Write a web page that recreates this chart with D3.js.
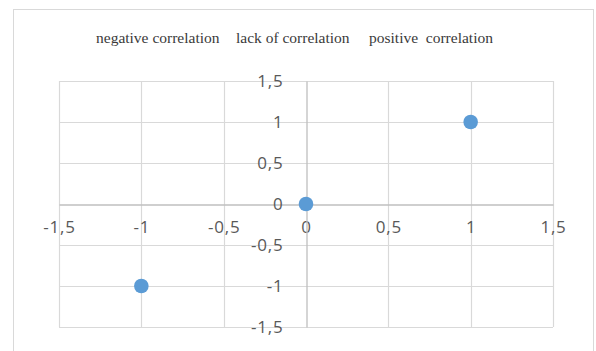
<!DOCTYPE html>
<html>
<head>
<meta charset="utf-8">
<script src="https://cdn.jsdelivr.net/npm/d3@7"></script>
<style>
  html, body { margin: 0; padding: 0; background: #fff; }
  svg { display: block; }
</style>
</head>
<body>
<svg id="chart" width="596" height="351"></svg>
<script>
// Scatter of three correlation cases
const xValues = [-1, 0, 1];
const yValues = [-1, 0, 1];
const xTicks = [-1.5, -1, -0.5, 0, 0.5, 1, 1.5];
const yTicks = [-1.5, -1, -0.5, 0, 0.5, 1, 1.5];
const headings = ["negative correlation", "lack of correlation", "positive  correlation"];
const headingX = [96, 236, 369];

const svg = d3.select("#chart");
const plot = { left: 59, right: 553, top: 81, bottom: 327 };

// chart frame
svg.append("rect")
  .attr("x", 13.5).attr("y", 9.5)
  .attr("width", 580).attr("height", 360)
  .attr("fill", "#fff").attr("stroke", "#d9d9d9").attr("stroke-width", 1);

const x = d3.scaleLinear().domain([-1.5, 1.5]).range([plot.left, plot.right]);
const y = d3.scaleLinear().domain([-1.5, 1.5]).range([plot.bottom, plot.top]);
const fmt = d => String(d).replace(".", ",");

// gridlines
const grid = svg.append("g").attr("class", "grid");
grid.selectAll("line.v").data(xTicks.filter(d => d !== 0)).join("line")
  .attr("class", "v")
  .attr("x1", d => Math.round(x(d)) + 0.5).attr("x2", d => Math.round(x(d)) + 0.5)
  .attr("y1", plot.top).attr("y2", plot.bottom)
  .attr("stroke", "#d9d9d9").attr("stroke-width", 1.2);
grid.selectAll("line.h").data(yTicks.filter(d => d !== 0)).join("line")
  .attr("class", "h")
  .attr("y1", d => Math.round(y(d)) + 0.5).attr("y2", d => Math.round(y(d)) + 0.5)
  .attr("x1", plot.left).attr("x2", plot.right)
  .attr("stroke", "#d9d9d9").attr("stroke-width", 1.2);

// axes crossing at zero
const xAxis = d3.axisBottom(x).tickValues(xTicks).tickSize(0).tickPadding(13).tickFormat(fmt);
const yAxis = d3.axisLeft(y).tickValues(yTicks).tickSize(0).tickPadding(23).tickFormat(fmt);

const gx = svg.append("g")
  .attr("transform", `translate(0,${Math.round(y(0)) + 0.5})`)
  .call(xAxis);
const gy = svg.append("g")
  .attr("transform", `translate(${Math.round(x(0)) + 0.5},0)`)
  .call(yAxis);

[gx, gy].forEach(g => {
  g.select(".domain").attr("stroke", "#bfbfbf").attr("stroke-width", 1.3);
  g.selectAll("text")
    .attr("fill", "#595959")
    .attr("font-family", "'Open Sans', sans-serif")
    .attr("font-size", 17)
    .attr("letter-spacing", "0.8px");
});
gx.selectAll("text").attr("dy", "0.92em");
gy.selectAll("text").attr("dy", "0.35em");

// headings
svg.append("g").selectAll("text").data(headings).join("text")
  .attr("x", (d, i) => headingX[i])
  .attr("y", 43)
  .attr("fill", "#3a3a3a")
  .attr("font-family", "'Liberation Serif', 'Times New Roman', serif")
  .attr("font-size", 15.5)
  .style("white-space", "pre")
  .text(d => d);

// points
svg.append("g").selectAll("circle").data(xValues).join("circle")
  .attr("cx", d => x(d))
  .attr("cy", (d, i) => y(yValues[i]))
  .attr("r", 7.3)
  .attr("fill", "#5b9bd5");
</script>
</body>
</html>
